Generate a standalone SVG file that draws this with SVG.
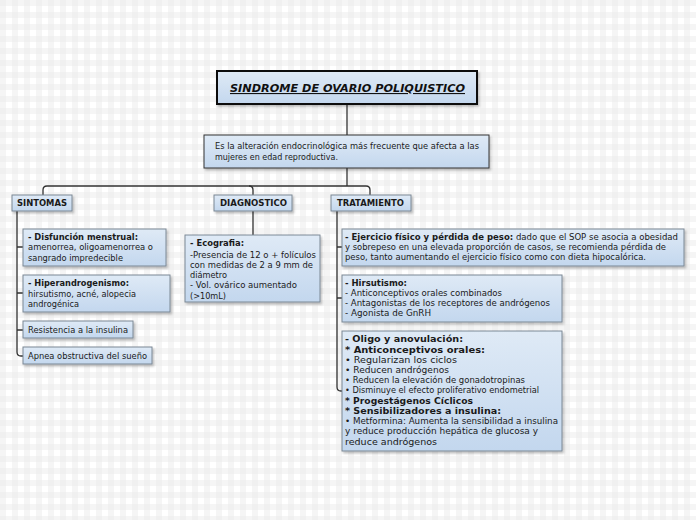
<svg xmlns="http://www.w3.org/2000/svg" width="696" height="520" viewBox="0 0 696 520">
<defs>
<pattern id="grid" width="12" height="12" patternUnits="userSpaceOnUse">
<rect width="12" height="12" fill="#ffffff"/>
<rect x="0" y="0" width="6" height="12" fill="#ececec" opacity="0.5"/>
<rect x="0" y="0" width="12" height="6" fill="#ececec" opacity="0.5"/>
</pattern>
<linearGradient id="blue" x1="0" y1="0" x2="0" y2="1">
<stop offset="0" stop-color="#dfeaf6"/>
<stop offset="1" stop-color="#c3d7ee"/>
</linearGradient>
<filter id="sh" x="-10%" y="-10%" width="130%" height="140%">
<feDropShadow dx="1.5" dy="2" stdDeviation="1" flood-color="#000" flood-opacity="0.25"/>
</filter>
</defs>
<style>
.box{fill:url(#blue);stroke:#7b8894;stroke-width:1;filter:url(#sh)}
.t{font-family:"DejaVu Sans",Verdana,sans-serif;font-size:8.3px;fill:#1a1a1a}
.b{font-weight:bold}
.hd{font-family:"DejaVu Sans",Verdana,sans-serif;font-size:8px;font-weight:bold;fill:#1a1a1a}
.c{fill:none;stroke:#333;stroke-width:1.3}
</style>
<rect width="696" height="520" fill="url(#grid)"/>
<g id="connectors">
<path class="c" d="M347,104 V135"/>
<path class="c" d="M347,168 V186"/>
<path class="c" d="M347,186 H47 Q43,186 43,190 V195"/>
<path class="c" d="M347,186 H366 Q370,186 370,190 V195"/>
<path class="c" d="M249,186 Q253,186 253,190 V195"/>
<path class="c" d="M17,211 V352 Q17,356 21,356 H23"/>
<path class="c" d="M17,247 H23 M17,293 H23 M17,330 H23"/>
<path class="c" d="M253,211 V235"/>
<path class="c" d="M337,211 V387 Q337,391 341,391 H342"/>
<path class="c" d="M337,247 H342 M337,298 H342"/>
</g>
<g id="title">
<rect x="217" y="71" width="260" height="33" fill="url(#blue)" stroke="#111" stroke-width="2" filter="url(#sh)"/>
<text x="230" y="92" textLength="235" lengthAdjust="spacingAndGlyphs" font-family="DejaVu Sans,Verdana,sans-serif" font-size="11" font-weight="bold" font-style="italic" text-decoration="underline" fill="#111">SINDROME DE OVARIO POLIQUISTICO</text>
</g>
<g id="definicion">
<rect x="204" y="135" width="285" height="33" fill="url(#blue)" stroke="#333" stroke-width="1" filter="url(#sh)"/>
<text class="t" x="215" y="149" textLength="264" lengthAdjust="spacingAndGlyphs">Es la alteración endocrinológica más frecuente que afecta a las</text>
<text class="t" x="215" y="160" textLength="123" lengthAdjust="spacingAndGlyphs">mujeres en edad reproductiva.</text>
</g>
<g id="sintomas">
<rect class="box" x="12" y="195" width="60" height="16"/>
<text class="hd" x="17" y="206" textLength="50" lengthAdjust="spacingAndGlyphs">SINTOMAS</text>
</g>
<g id="disfuncion">
<rect class="box" x="23" y="229" width="143" height="37"/>
<text class="t b" x="28" y="240" textLength="110" lengthAdjust="spacingAndGlyphs">- Disfunción menstrual:</text>
<text class="t" x="28" y="250" textLength="125" lengthAdjust="spacingAndGlyphs">amenorrea, oligoamenorrea o</text>
<text class="t" x="28" y="261" textLength="95" lengthAdjust="spacingAndGlyphs">sangrado impredecible</text>
</g>
<g id="hiperandrogenismo">
<rect class="box" x="23" y="275" width="147" height="37"/>
<text class="t b" x="28" y="286" textLength="101" lengthAdjust="spacingAndGlyphs">- Hiperandrogenismo:</text>
<text class="t" x="28" y="297" textLength="108" lengthAdjust="spacingAndGlyphs">hirsutismo, acné, alopecia</text>
<text class="t" x="28" y="307" textLength="51" lengthAdjust="spacingAndGlyphs">androgénica</text>
</g>
<g id="resistencia">
<rect class="box" x="23" y="321" width="110" height="17"/>
<text class="t" x="28" y="333" textLength="100" lengthAdjust="spacingAndGlyphs">Resistencia a la insulina</text>
</g>
<g id="apnea">
<rect class="box" x="23" y="347" width="129" height="17"/>
<text class="t" x="28" y="359" textLength="119" lengthAdjust="spacingAndGlyphs">Apnea obstructiva del sueño</text>
</g>
<g id="diagnostico">
<rect class="box" x="214" y="195" width="78" height="16"/>
<text class="hd" x="220" y="206" textLength="67" lengthAdjust="spacingAndGlyphs">DIAGNOSTICO</text>
</g>
<g id="ecografia">
<rect class="box" x="185" y="235" width="135" height="67"/>
<text class="t b" x="190" y="246" textLength="54" lengthAdjust="spacingAndGlyphs">- Ecografia:</text>
<text class="t" x="190" y="258" textLength="126" lengthAdjust="spacingAndGlyphs">-Presencia de 12 o + folículos</text>
<text class="t" x="190" y="268" textLength="123" lengthAdjust="spacingAndGlyphs">con medidas de 2 a 9 mm de</text>
<text class="t" x="190" y="278" textLength="37" lengthAdjust="spacingAndGlyphs">diámetro</text>
<text class="t" x="190" y="288" textLength="107" lengthAdjust="spacingAndGlyphs">- Vol. ovárico aumentado</text>
<text class="t" x="190" y="299" textLength="36" lengthAdjust="spacingAndGlyphs">(&gt;10mL)</text>
</g>
<g id="tratamiento">
<rect class="box" x="331" y="195" width="80" height="16"/>
<text class="hd" x="337" y="206" textLength="67" lengthAdjust="spacingAndGlyphs">TRATAMIENTO</text>
</g>
<g id="ejercicio">
<rect class="box" x="342" y="229" width="342" height="37"/>
<text class="t" x="345" y="240" textLength="333" lengthAdjust="spacingAndGlyphs"><tspan class="b">- Ejercicio físico y pérdida de peso:</tspan> dado que el SOP se asocia a obesidad</text>
<text class="t" x="345" y="250" textLength="321" lengthAdjust="spacingAndGlyphs">y sobrepeso en una elevada proporción de casos, se recomienda pérdida de</text>
<text class="t" x="345" y="260" textLength="301" lengthAdjust="spacingAndGlyphs">peso, tanto aumentando el ejercicio físico como con dieta hipocalórica.</text>
</g>
<g id="hirsutismo">
<rect class="box" x="342" y="275" width="220" height="47"/>
<text class="t b" x="345" y="286" textLength="62" lengthAdjust="spacingAndGlyphs">- Hirsutismo:</text>
<text class="t" x="345" y="296" textLength="157" lengthAdjust="spacingAndGlyphs">- Anticonceptivos orales combinados</text>
<text class="t" x="345" y="306" textLength="205" lengthAdjust="spacingAndGlyphs">- Antagonistas de los receptores de andrógenos</text>
<text class="t" x="345" y="316" textLength="86" lengthAdjust="spacingAndGlyphs">- Agonista de GnRH</text>
</g>
<g id="oligo">
<rect class="box" x="342" y="331" width="220" height="120"/>
<text class="t b" x="345" y="342" textLength="118" lengthAdjust="spacingAndGlyphs">- Oligo y anovulación:</text>
<text class="t b" x="345" y="353" textLength="140" lengthAdjust="spacingAndGlyphs">* Anticonceptivos orales:</text>
<text class="t" x="345" y="363" textLength="112" lengthAdjust="spacingAndGlyphs">• Regularizan los ciclos</text>
<text class="t" x="345" y="373" textLength="104" lengthAdjust="spacingAndGlyphs">• Reducen andrógenos</text>
<text class="t" x="345" y="383" textLength="180" lengthAdjust="spacingAndGlyphs">• Reducen la elevación de gonadotropinas</text>
<text class="t" x="345" y="393" textLength="194" lengthAdjust="spacingAndGlyphs">• Disminuye el efecto proliferativo endometrial</text>
<text class="t b" x="345" y="404" textLength="128" lengthAdjust="spacingAndGlyphs">* Progestágenos Cíclicos</text>
<text class="t b" x="345" y="414" textLength="156" lengthAdjust="spacingAndGlyphs">* Sensibilizadores a insulina:</text>
<text class="t" x="345" y="424" textLength="213" lengthAdjust="spacingAndGlyphs">• Metformina: Aumenta la sensibilidad a insulina</text>
<text class="t" x="345" y="434" textLength="193" lengthAdjust="spacingAndGlyphs">y reduce producción hepática de glucosa y</text>
<text class="t" x="345" y="445" textLength="92" lengthAdjust="spacingAndGlyphs">reduce andrógenos</text>
</g>
</svg>
